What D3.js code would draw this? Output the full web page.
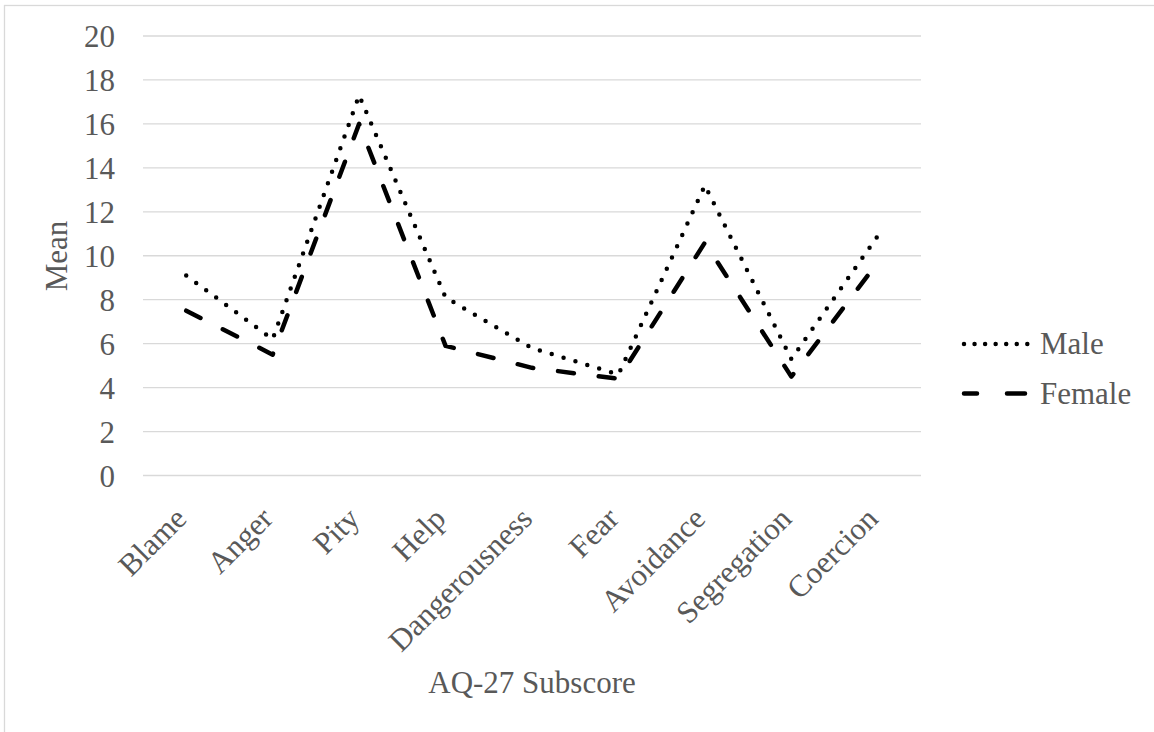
<!DOCTYPE html>
<html>
<head>
<meta charset="utf-8">
<script src="https://cdn.jsdelivr.net/npm/d3@7/dist/d3.min.js"></script>
<style>
  html, body { margin: 0; padding: 0; background: #fff; }
  svg { display: block; }
  text { font-family: "Liberation Serif", "Times New Roman", serif; fill: #595959; }
</style>
</head>
<body>
<svg id="chart" width="1154" height="732"></svg>
<script>
// AQ-27 subscale means by gender
const categories = ["Blame", "Anger", "Pity", "Help", "Dangerousness", "Fear", "Avoidance", "Segregation", "Coercion"];
const maleMeans   = [9.1, 6.2, 17.3, 8.1, 5.8, 4.6, 13.2, 5.3, 10.9];
const femaleMeans = [7.5, 5.5, 16.0, 5.9, 4.9, 4.4, 10.6, 4.5, 9.7];
const yTicks = [0, 2, 4, 6, 8, 10, 12, 14, 16, 18, 20];
const seriesNames = ["Male", "Female"];

const svg = d3.select("#chart");
const W = 1154, H = 732;
const plot = { left: 143, right: 921, top: 36, bottom: 475.5 };

// outer chart frame
svg.append("rect")
  .attr("x", 4.5).attr("y", 5.5)
  .attr("width", W + 10).attr("height", H + 10)
  .attr("fill", "none").attr("stroke", "#d9d9d9").attr("stroke-width", 1.3);

const x = d3.scaleBand().domain(categories).range([plot.left, plot.right]).padding(0);
const y = d3.scaleLinear().domain([0, 20]).range([plot.bottom, plot.top]);
const cx = c => x(c) + x.bandwidth() / 2;

// horizontal gridlines
svg.append("g").selectAll("line").data(yTicks).join("line")
  .attr("x1", plot.left).attr("x2", plot.right)
  .attr("y1", d => y(d)).attr("y2", d => y(d))
  .attr("stroke", "#d9d9d9").attr("stroke-width", 1.3);

// y axis labels
const yAxis = svg.append("g")
  .attr("transform", `translate(${plot.left},0)`)
  .call(d3.axisLeft(y).tickValues(yTicks).tickSize(0).tickPadding(28));
yAxis.select(".domain").remove();
yAxis.selectAll("text")
  .attr("font-family", "Liberation Serif, Times New Roman, serif")
  .attr("font-size", 31).attr("fill", "#595959").attr("dy", "0.34em");

// x axis labels, rotated
const xAxis = svg.append("g")
  .attr("transform", `translate(0,${plot.bottom})`)
  .call(d3.axisBottom(x).tickSize(0));
xAxis.select(".domain").remove();
xAxis.selectAll("text")
  .attr("font-family", "Liberation Serif, Times New Roman, serif")
  .attr("font-size", 31).attr("fill", "#595959")
  .attr("text-anchor", "end")
  .attr("y", 0).attr("dy", 0)
  .attr("transform", "translate(2,45) rotate(-45)");

// axis titles
svg.append("text")
  .attr("transform", "translate(67,256) rotate(-90)")
  .attr("text-anchor", "middle").attr("font-size", 31)
  .text("Mean");
svg.append("text")
  .attr("x", (plot.left + plot.right) / 2).attr("y", 693)
  .attr("text-anchor", "middle").attr("font-size", 31)
  .text("AQ-27 Subscore");

// series lines
const line = d3.line().x(d => cx(d.c)).y(d => y(d.v));
const maleData = categories.map((c, i) => ({ c, v: maleMeans[i] }));
const femaleData = categories.map((c, i) => ({ c, v: femaleMeans[i] }));

svg.append("path").datum(maleData)
  .attr("d", line).attr("fill", "none")
  .attr("stroke", "#000").attr("stroke-width", 4.5)
  .attr("stroke-linecap", "round").attr("stroke-linejoin", "round")
  .attr("stroke-dasharray", "0,12.4");

svg.append("path").datum(femaleData)
  .attr("d", line).attr("fill", "none")
  .attr("stroke", "#000").attr("stroke-width", 4.5)
  .attr("stroke-linecap", "round").attr("stroke-linejoin", "round")
  .attr("stroke-dasharray", "16,25");

// legend
const legend = svg.append("g");
legend.append("line")
  .attr("x1", 964).attr("x2", 1027.5).attr("y1", 344).attr("y2", 344)
  .attr("stroke", "#000").attr("stroke-width", 4.5)
  .attr("stroke-linecap", "round").attr("stroke-dasharray", "0,10.55");
legend.append("text").attr("x", 1040).attr("y", 354).attr("font-size", 31).text(seriesNames[0]);

legend.append("line")
  .attr("x1", 964).attr("x2", 1025).attr("y1", 393.5).attr("y2", 393.5)
  .attr("stroke", "#000").attr("stroke-width", 4.5)
  .attr("stroke-linecap", "round").attr("stroke-dasharray", "13,30,18");
legend.append("text").attr("x", 1040).attr("y", 404).attr("font-size", 31).text(seriesNames[1]);
</script>
</body>
</html>
